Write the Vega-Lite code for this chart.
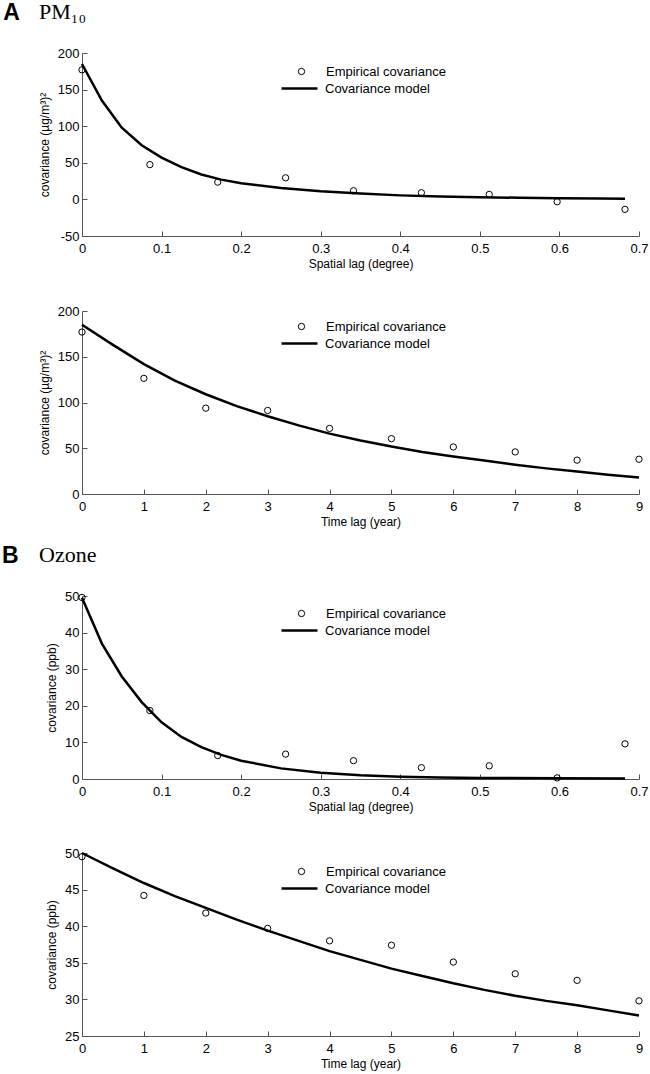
{
  "$schema": "https://vega.github.io/schema/vega-lite/v6.json",
  "padding": {"left": 2, "top": 1, "right": 4, "bottom": 3},
  "background": "white",
  "config": {
    "view": {"stroke": null},
    "font": "Liberation Sans",
    "axis": {
      "grid": false,
      "domainColor": "#555555",
      "tickColor": "#555555",
      "tickSize": -5,
      "tickCount": 20,
      "labelFont": "Liberation Sans",
      "labelFontSize": 13,
      "labelColor": "black",
      "labelPadding": 8,
      "labelFlush": false,
      "labelOverlap": false,
      "labelBound": false,
      "titleFont": "Liberation Sans",
      "titleFontSize": 12,
      "titleFontWeight": "normal",
      "titleColor": "black"
    },
    "axisX": {"titlePadding": 3, "labelPadding": 11},
    "axisY": {"titlePadding": 6},
    "legend": {
      "title": null,
      "labelFont": "Liberation Sans",
      "labelFontSize": 13,
      "labelColor": "black",
      "symbolStrokeColor": "black",
      "symbolFillColor": "transparent",
      "padding": 0
    },
    "title": {
      "font": "Liberation Serif",
      "fontSize": 22,
      "fontWeight": "normal",
      "color": "black",
      "anchor": "start"
    }
  },
  "datasets": {
    "emp": [
      {"p": 1, "x": 0, "y": 177}, {"p": 1, "x": 0.0853, "y": 47.5}, {"p": 1, "x": 0.1706, "y": 23.6}, {"p": 1, "x": 0.2559, "y": 29.5}, {"p": 1, "x": 0.3412, "y": 11.8}, {"p": 1, "x": 0.4265, "y": 9.1}, {"p": 1, "x": 0.5118, "y": 6.8}, {"p": 1, "x": 0.5971, "y": -3.2}, {"p": 1, "x": 0.6824, "y": -13.6},
      {"p": 2, "x": 0, "y": 177}, {"p": 2, "x": 1, "y": 126.4}, {"p": 2, "x": 2, "y": 93.8}, {"p": 2, "x": 3, "y": 91.3}, {"p": 2, "x": 4, "y": 71.7}, {"p": 2, "x": 5, "y": 60.5}, {"p": 2, "x": 6, "y": 51.4}, {"p": 2, "x": 7, "y": 46}, {"p": 2, "x": 8, "y": 37}, {"p": 2, "x": 9, "y": 38},
      {"p": 3, "x": 0, "y": 49.6}, {"p": 3, "x": 0.0853, "y": 18.7}, {"p": 3, "x": 0.1706, "y": 6.4}, {"p": 3, "x": 0.2559, "y": 6.8}, {"p": 3, "x": 0.3412, "y": 5.0}, {"p": 3, "x": 0.4265, "y": 3.1}, {"p": 3, "x": 0.5118, "y": 3.6}, {"p": 3, "x": 0.5971, "y": 0.3}, {"p": 3, "x": 0.6824, "y": 9.6},
      {"p": 4, "x": 0, "y": 49.5}, {"p": 4, "x": 1, "y": 44.2}, {"p": 4, "x": 2, "y": 41.8}, {"p": 4, "x": 3, "y": 39.7}, {"p": 4, "x": 4, "y": 38.0}, {"p": 4, "x": 5, "y": 37.4}, {"p": 4, "x": 6, "y": 35.1}, {"p": 4, "x": 7, "y": 33.5}, {"p": 4, "x": 8, "y": 32.6}, {"p": 4, "x": 9, "y": 29.8}
    ],
    "model": [
      {"p": 1, "x": 0, "y": 185}, {"p": 1, "x": 0.025, "y": 135}, {"p": 1, "x": 0.05, "y": 98}, {"p": 1, "x": 0.075, "y": 74}, {"p": 1, "x": 0.1, "y": 57}, {"p": 1, "x": 0.125, "y": 44}, {"p": 1, "x": 0.15, "y": 34}, {"p": 1, "x": 0.175, "y": 27}, {"p": 1, "x": 0.2, "y": 22}, {"p": 1, "x": 0.25, "y": 15.5}, {"p": 1, "x": 0.3, "y": 11}, {"p": 1, "x": 0.35, "y": 8}, {"p": 1, "x": 0.4, "y": 5.5}, {"p": 1, "x": 0.45, "y": 4}, {"p": 1, "x": 0.5, "y": 3}, {"p": 1, "x": 0.55, "y": 2.2}, {"p": 1, "x": 0.6, "y": 1.6}, {"p": 1, "x": 0.65, "y": 1.2}, {"p": 1, "x": 0.6824, "y": 1},
      {"p": 2, "x": 0, "y": 185}, {"p": 2, "x": 0.5, "y": 163}, {"p": 2, "x": 1, "y": 142}, {"p": 2, "x": 1.5, "y": 124}, {"p": 2, "x": 2, "y": 109}, {"p": 2, "x": 2.5, "y": 96}, {"p": 2, "x": 3, "y": 85}, {"p": 2, "x": 3.5, "y": 75}, {"p": 2, "x": 4, "y": 66}, {"p": 2, "x": 4.5, "y": 58.5}, {"p": 2, "x": 5, "y": 52}, {"p": 2, "x": 5.5, "y": 46}, {"p": 2, "x": 6, "y": 41}, {"p": 2, "x": 6.5, "y": 36.5}, {"p": 2, "x": 7, "y": 32}, {"p": 2, "x": 7.5, "y": 28}, {"p": 2, "x": 8, "y": 24.5}, {"p": 2, "x": 8.5, "y": 21}, {"p": 2, "x": 9, "y": 18},
      {"p": 3, "x": 0, "y": 49.5}, {"p": 3, "x": 0.025, "y": 37}, {"p": 3, "x": 0.05, "y": 28}, {"p": 3, "x": 0.075, "y": 21}, {"p": 3, "x": 0.1, "y": 15.5}, {"p": 3, "x": 0.125, "y": 11.5}, {"p": 3, "x": 0.15, "y": 8.7}, {"p": 3, "x": 0.175, "y": 6.6}, {"p": 3, "x": 0.2, "y": 5}, {"p": 3, "x": 0.25, "y": 2.9}, {"p": 3, "x": 0.3, "y": 1.7}, {"p": 3, "x": 0.35, "y": 1.0}, {"p": 3, "x": 0.4, "y": 0.6}, {"p": 3, "x": 0.45, "y": 0.4}, {"p": 3, "x": 0.5, "y": 0.3}, {"p": 3, "x": 0.6, "y": 0.2}, {"p": 3, "x": 0.6824, "y": 0.15},
      {"p": 4, "x": 0, "y": 50}, {"p": 4, "x": 0.5, "y": 47.9}, {"p": 4, "x": 1, "y": 45.9}, {"p": 4, "x": 1.5, "y": 44.1}, {"p": 4, "x": 2, "y": 42.5}, {"p": 4, "x": 2.5, "y": 40.9}, {"p": 4, "x": 3, "y": 39.4}, {"p": 4, "x": 3.5, "y": 38.0}, {"p": 4, "x": 4, "y": 36.6}, {"p": 4, "x": 4.5, "y": 35.4}, {"p": 4, "x": 5, "y": 34.2}, {"p": 4, "x": 5.5, "y": 33.2}, {"p": 4, "x": 6, "y": 32.2}, {"p": 4, "x": 6.5, "y": 31.3}, {"p": 4, "x": 7, "y": 30.5}, {"p": 4, "x": 7.5, "y": 29.8}, {"p": 4, "x": 8, "y": 29.2}, {"p": 4, "x": 8.5, "y": 28.5}, {"p": 4, "x": 9, "y": 27.8}
    ]
  },
  "resolve": {"scale": {"shape": "independent", "color": "independent"}, "legend": {"shape": "independent", "color": "independent"}},
  "spacing": 17,
  "vconcat": [
    {
      "title": {"text": "A", "font": "Liberation Sans", "fontWeight": "bold", "fontSize": 23, "frame": "bounds", "anchor": "start", "dx": -35, "dy": 28},
      "resolve": {"scale": {"shape": "independent", "color": "independent"}, "legend": {"shape": "independent", "color": "independent"}},
      "spacing": 36,
      "vconcat": [
        {
          "title": {"text": "PM₁₀", "frame": "group", "anchor": "start", "dx": -43, "offset": 23},
          "width": 557, "height": 183,
          "layer": [
            {
              "data": {"name": "model"},
              "transform": [{"filter": "datum.p == 1"}],
              "mark": {"type": "line", "strokeWidth": 2.5},
              "encoding": {
                "x": {"field": "x", "type": "quantitative", "scale": {"domain": [0, 0.7], "nice": false}, "axis": {"title": "Spatial lag (degree)", "values": [0, 0.1, 0.2, 0.3, 0.4, 0.5, 0.6, 0.7], "tickCount": 20, "format": ".1~f", "labelOverlap": false}},
                "y": {"field": "y", "type": "quantitative", "scale": {"domain": [-50, 200], "nice": false}, "axis": {"title": "covariance (µg/m³)²", "values": [-50, 0, 50, 100, 150, 200], "tickCount": 20, "labelOverlap": false, "labelExpr": "datum.value < 0 ? '-' + abs(datum.value) : '' + datum.value"}},
                "color": {"datum": "Covariance model", "type": "nominal", "scale": {"domain": ["Covariance model"], "range": ["black"]}, "legend": {"orient": "none", "legendX": 198, "legendY": 16, "symbolType": "stroke", "symbolSize": 1296, "symbolStrokeWidth": 2.5, "labelOffset": 6}}
              }
            },
            {
              "data": {"name": "emp"},
              "transform": [{"filter": "datum.p == 1"}],
              "mark": {"type": "point", "filled": false, "color": "black", "size": 40, "strokeWidth": 1, "opacity": 1},
              "encoding": {
                "x": {"field": "x", "type": "quantitative"},
                "y": {"field": "y", "type": "quantitative"},
                "shape": {"datum": "Empirical covariance", "type": "nominal", "scale": {"domain": ["Empirical covariance"], "range": ["circle"]}, "legend": {"orient": "none", "legendX": 213, "legendY": 12, "symbolSize": 40, "symbolStrokeWidth": 1, "labelOffset": 18}}
              }
            }
          ]
        },
        {
          "width": 557, "height": 183,
          "layer": [
            {
              "data": {"name": "model"},
              "transform": [{"filter": "datum.p == 2"}],
              "mark": {"type": "line", "strokeWidth": 2.5},
              "encoding": {
                "x": {"field": "x", "type": "quantitative", "scale": {"domain": [0, 9], "nice": false}, "axis": {"title": "Time lag (year)", "values": [0, 1, 2, 3, 4, 5, 6, 7, 8, 9], "tickCount": 20, "format": "d", "labelOverlap": false}},
                "y": {"field": "y", "type": "quantitative", "scale": {"domain": [0, 200], "nice": false}, "axis": {"title": "covariance (µg/m³)²", "values": [0, 50, 100, 150, 200], "tickCount": 20, "format": "d", "labelOverlap": false}},
                "color": {"datum": "Covariance model", "type": "nominal", "scale": {"domain": ["Covariance model"], "range": ["black"]}, "legend": {"orient": "none", "legendX": 198, "legendY": 13, "symbolType": "stroke", "symbolSize": 1296, "symbolStrokeWidth": 2.5, "labelOffset": 6}}
              }
            },
            {
              "data": {"name": "emp"},
              "transform": [{"filter": "datum.p == 2"}],
              "mark": {"type": "point", "filled": false, "color": "black", "size": 40, "strokeWidth": 1, "opacity": 1},
              "encoding": {
                "x": {"field": "x", "type": "quantitative"},
                "y": {"field": "y", "type": "quantitative"},
                "shape": {"datum": "Empirical covariance", "type": "nominal", "scale": {"domain": ["Empirical covariance"], "range": ["circle"]}, "legend": {"orient": "none", "legendX": 213, "legendY": 9, "symbolSize": 40, "symbolStrokeWidth": 1, "labelOffset": 18}}
              }
            }
          ]
        }
      ]
    },
    {
      "title": {"text": "B", "font": "Liberation Sans", "fontWeight": "bold", "fontSize": 23, "frame": "bounds", "anchor": "start", "dx": -37, "dy": 28},
      "resolve": {"scale": {"shape": "independent", "color": "independent"}, "legend": {"shape": "independent", "color": "independent"}},
      "spacing": 35,
      "vconcat": [
        {
          "title": {"text": "Ozone", "frame": "group", "anchor": "start", "dx": -43, "offset": 23},
          "width": 557, "height": 183,
          "layer": [
            {
              "data": {"name": "model"},
              "transform": [{"filter": "datum.p == 3"}],
              "mark": {"type": "line", "strokeWidth": 2.5},
              "encoding": {
                "x": {"field": "x", "type": "quantitative", "scale": {"domain": [0, 0.7], "nice": false}, "axis": {"title": "Spatial lag (degree)", "values": [0, 0.1, 0.2, 0.3, 0.4, 0.5, 0.6, 0.7], "tickCount": 20, "format": ".1~f", "labelOverlap": false}},
                "y": {"field": "y", "type": "quantitative", "scale": {"domain": [0, 50], "nice": false}, "axis": {"title": "covariance (ppb)", "values": [0, 10, 20, 30, 40, 50], "tickCount": 20, "format": "d", "labelOverlap": false}},
                "color": {"datum": "Covariance model", "type": "nominal", "scale": {"domain": ["Covariance model"], "range": ["black"]}, "legend": {"orient": "none", "legendX": 198, "legendY": 15, "symbolType": "stroke", "symbolSize": 1296, "symbolStrokeWidth": 2.5, "labelOffset": 6}}
              }
            },
            {
              "data": {"name": "emp"},
              "transform": [{"filter": "datum.p == 3"}],
              "mark": {"type": "point", "filled": false, "color": "black", "size": 40, "strokeWidth": 1, "opacity": 1},
              "encoding": {
                "x": {"field": "x", "type": "quantitative"},
                "y": {"field": "y", "type": "quantitative"},
                "shape": {"datum": "Empirical covariance", "type": "nominal", "scale": {"domain": ["Empirical covariance"], "range": ["circle"]}, "legend": {"orient": "none", "legendX": 213, "legendY": 11, "symbolSize": 40, "symbolStrokeWidth": 1, "labelOffset": 18}}
              }
            }
          ]
        },
        {
          "width": 557, "height": 183,
          "layer": [
            {
              "data": {"name": "model"},
              "transform": [{"filter": "datum.p == 4"}],
              "mark": {"type": "line", "strokeWidth": 2.5},
              "encoding": {
                "x": {"field": "x", "type": "quantitative", "scale": {"domain": [0, 9], "nice": false}, "axis": {"title": "Time lag (year)", "values": [0, 1, 2, 3, 4, 5, 6, 7, 8, 9], "tickCount": 20, "format": "d", "labelOverlap": false}},
                "y": {"field": "y", "type": "quantitative", "scale": {"domain": [25, 50], "nice": false}, "axis": {"title": "covariance (ppb)", "values": [25, 30, 35, 40, 45, 50], "tickCount": 20, "format": "d", "labelOverlap": false}},
                "color": {"datum": "Covariance model", "type": "nominal", "scale": {"domain": ["Covariance model"], "range": ["black"]}, "legend": {"orient": "none", "legendX": 198, "legendY": 16, "symbolType": "stroke", "symbolSize": 1296, "symbolStrokeWidth": 2.5, "labelOffset": 6}}
              }
            },
            {
              "data": {"name": "emp"},
              "transform": [{"filter": "datum.p == 4"}],
              "mark": {"type": "point", "filled": false, "color": "black", "size": 40, "strokeWidth": 1, "opacity": 1},
              "encoding": {
                "x": {"field": "x", "type": "quantitative"},
                "y": {"field": "y", "type": "quantitative"},
                "shape": {"datum": "Empirical covariance", "type": "nominal", "scale": {"domain": ["Empirical covariance"], "range": ["circle"]}, "legend": {"orient": "none", "legendX": 213, "legendY": 12, "symbolSize": 40, "symbolStrokeWidth": 1, "labelOffset": 18}}
              }
            }
          ]
        }
      ]
    }
  ]
}
